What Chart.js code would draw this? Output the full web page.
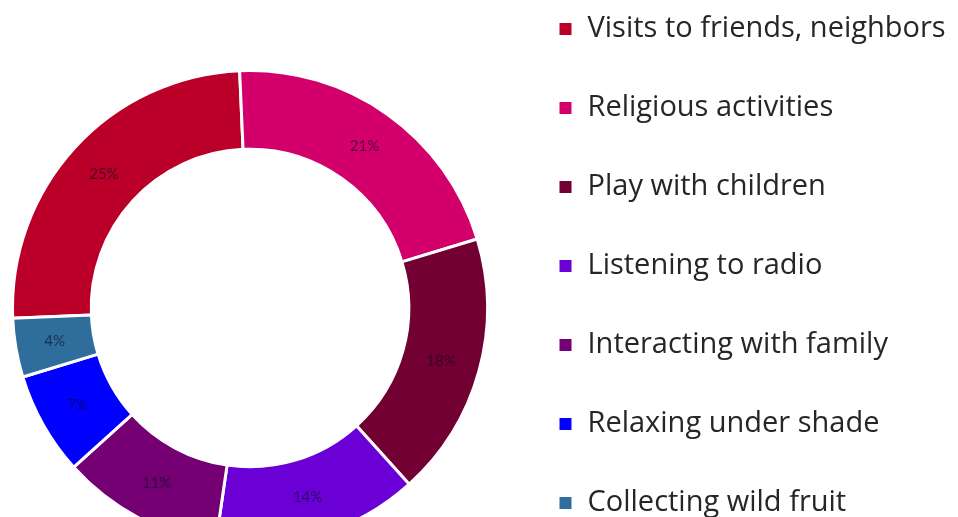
<!DOCTYPE html>
<html>
<head>
<meta charset="utf-8">
<script src="https://cdn.jsdelivr.net/npm/chart.js@4.4.1/dist/chart.umd.min.js"></script>
<style>
html,body{margin:0;padding:0;background:#fff;overflow:hidden;width:958px;height:517px;}
#wrap{position:relative;width:958px;height:517px;overflow:hidden;}
#c{position:absolute;left:-10px;top:-40px;display:block;}
</style>
</head>
<body>
<div id="wrap"><canvas id="c" width="1040" height="700"></canvas></div>
<script>
const categories = [
  "Visits to friends, neighbors",
  "Religious activities",
  "Play with children",
  "Listening to radio",
  "Interacting with family",
  "Relaxing under shade",
  "Collecting wild fruit"
];
const values = [25, 21, 18, 14, 11, 7, 4];
const colors = ["#BA0029", "#D3006B", "#730033", "#6A00D6", "#740074", "#0000FF", "#2F6D9D"];

const LEGEND_FONT = { family: 'Open Sans', size: 29 };
const BOX = 15, LPAD = 50, CANVAS_W = 1040, LEGEND_LEFT = 518;

// measure the widest legend text so the legend box starts where wanted
const mctx = document.createElement('canvas').getContext('2d');
mctx.font = LEGEND_FONT.size + 'px "' + LEGEND_FONT.family + '"';
let maxText = 0;
categories.forEach(t => { maxText = Math.max(maxText, mctx.measureText(t).width); });
const legendWidth = LPAD + BOX + LEGEND_FONT.size / 2 + maxText + 10;
const padRight = Math.max(0, CANVAS_W - LEGEND_LEFT - legendWidth);

const sliceLabels = {
  id: 'sliceLabels',
  afterDatasetsDraw(chart) {
    const ctx = chart.ctx;
    const meta = chart.getDatasetMeta(0);
    ctx.save();
    ctx.font = '15px Lato';
    ctx.fillStyle = 'rgba(10,10,30,0.62)';
    ctx.textAlign = 'center';
    ctx.textBaseline = 'middle';
    meta.data.forEach((arc, i) => {
      const p = arc.tooltipPosition();
      ctx.fillText(values[i] + '%', p.x, p.y);
    });
    ctx.restore();
  }
};

new Chart(document.getElementById('c'), {
  type: 'doughnut',
  data: {
    labels: categories,
    datasets: [{
      data: values,
      backgroundColor: colors,
      borderColor: '#ffffff',
      borderWidth: 3,
      hoverOffset: 0
    }]
  },
  options: {
    responsive: false,
    animation: false,
    devicePixelRatio: 1,
    rotation: -92.5,
    radius: 237.5,
    cutout: 171.5,
    layout: { padding: { left: 2, right: padRight, top: 4.5, bottom: 8.5 } },
    plugins: {
      legend: {
        position: 'right',
        align: 'start',
        labels: {
          boxWidth: BOX,
          boxHeight: BOX,
          padding: LPAD,
          color: '#262626',
          font: LEGEND_FONT
        }
      },
      tooltip: { enabled: false }
    }
  },
  plugins: [sliceLabels]
});
</script>
</body>
</html>
